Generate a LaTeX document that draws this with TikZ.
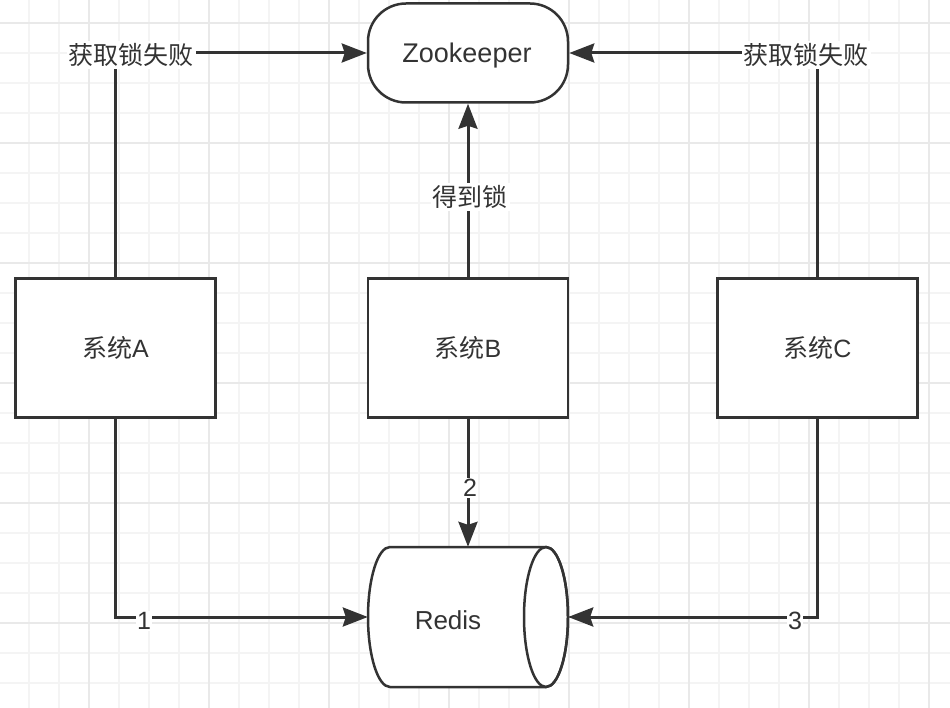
\documentclass[tikz,border=0pt]{standalone}
\usepackage{fontspec}
\setmainfont{Liberation Sans}
\newfontfamily\cjk{Noto Sans CJK SC}
\usetikzlibrary{arrows.meta}
\definecolor{ink}{HTML}{333333}
\definecolor{gridminor}{HTML}{F4F4F4}
\definecolor{gridmajor}{HTML}{E9E9E9}
\begin{document}
\begin{tikzpicture}[x=1pt,y=-1pt,
  every node/.style={font=\fontsize{25}{30}\selectfont, text=ink},
  sysbox/.style={draw=ink, line width=2.5pt, fill=white, minimum width=200pt, minimum height=139pt, inner sep=0pt},
  zkbox/.style={draw=ink, line width=2.5pt, fill=white, rounded corners=38pt, minimum width=200pt, minimum height=99pt, inner sep=0pt},
  conn/.style={draw=ink, line width=3pt, -{Stealth[length=25pt,width=19pt,inset=3pt]}},
  lbl/.style={fill=white, inner sep=2pt}]
\useasboundingbox (0,0) rectangle (950,708);
\fill[white] (0,0) rectangle (950,708);
% grid
\foreach \x in {-1,29,...,959} \draw[gridminor, line width=1.5pt] (\x,0) -- (\x,708);
\foreach \y in {23,53,...,713} \draw[gridminor, line width=1.5pt] (0,\y) -- (950,\y);
\foreach \x in {89,209,...,929} \draw[gridmajor, line width=1.5pt] (\x,0) -- (\x,708);
\foreach \y in {23,143,...,743} \draw[gridmajor, line width=1.5pt] (0,\y) -- (950,\y);
% nodes
\node[zkbox] (zk) at (468,53) {};
\node[font=\fontsize{27}{32}\selectfont] (zkt) at (467,56) {Zookeeper};
\node[sysbox] (A) at (115.5,348) {{\cjk 系统}A};
\node[sysbox] (B) at (468,348) {{\cjk 系统}B};
\node[sysbox] (C) at (817.5,348) {{\cjk 系统}C};
% redis cylinder
\node[minimum width=200pt, minimum height=140pt, inner sep=0pt] (redis) at (468,617) {};
\draw[ink, line width=2.5pt, fill=white] (390,547) -- (546,547)
  arc[start angle=-90, end angle=90, x radius=22, y radius=70] -- (390,687)
  arc[start angle=90, end angle=270, x radius=22, y radius=70] -- cycle;
\draw[ink, line width=2.5pt] (546,617) ellipse[x radius=22, y radius=70];
\node[font=\fontsize{26}{31}\selectfont] (rt) at (448,620) {Redis};
% connectors
\draw[conn] (A.north) |- (zk.west);
\draw[conn] (C.north) |- (zk.east);
\draw[conn] (B.north) -- (zk.south);
\draw[conn] (A.south) |- (redis.west);
\draw[conn] (C.south) |- (redis.east);
\draw[conn] (B.south) -- (redis.north);
% labels
\node[lbl] (l1) at (131,55) {\cjk 获取锁失败};
\node[lbl] (l2) at (806,55) {\cjk 获取锁失败};
\node[lbl] (l3) at (470,197) {\cjk 得到锁};
\node[lbl, inner sep=1pt] (n1) at (144,621) {1};
\node[lbl, inner sep=1pt] (n2) at (470,488) {2};
\node[lbl, inner sep=1pt] (n3) at (795,621) {3};
\end{tikzpicture}
\end{document}
